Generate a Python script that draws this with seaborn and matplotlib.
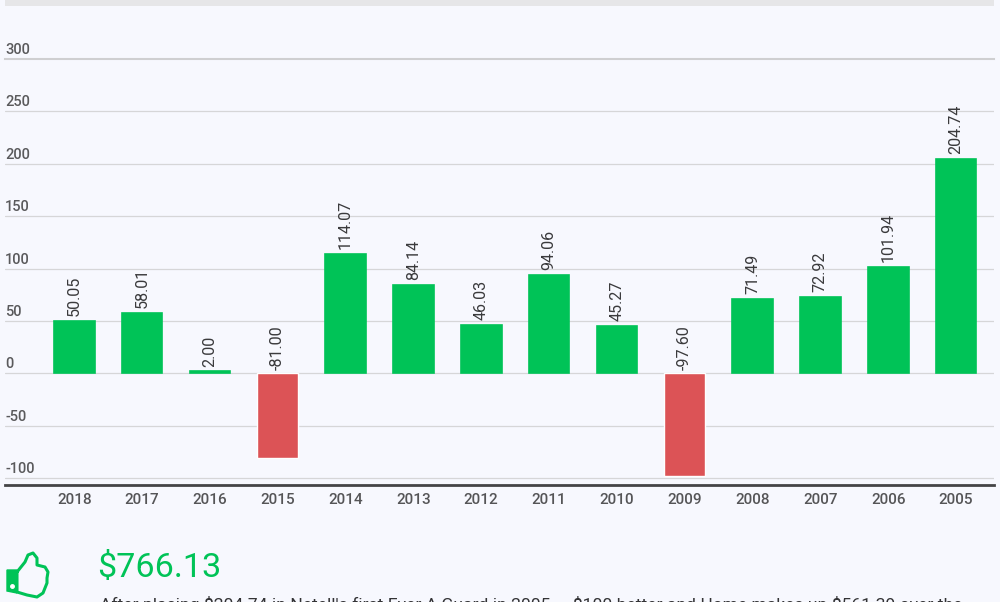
import pandas as pd
import numpy as np
import matplotlib
matplotlib.use("Agg")
import matplotlib.pyplot as plt
import seaborn as sns
from matplotlib.patches import Rectangle, PathPatch, Polygon
from matplotlib.path import Path

# chart values
years = ["2018", "2017", "2016", "2015", "2014", "2013", "2012", "2011", "2010", "2009", "2008", "2007", "2006", "2005"]
values = [50.05, 58.01, 2.00, -81.00, 114.07, 84.14, 46.03, 94.06, 45.27, -97.60, 71.49, 72.92, 101.94, 204.74]
y_ticks = [-100, -50, 0, 50, 100, 150, 200, 250, 300]
total_label = "$766.13"
note_label = "After placing $204.74 in Netell's first Ever A Guard in 2005 \u2014 $100 better and Home makes up $561.39 over the"

BG = "#F7F8FE"
GREEN = "#00C357"
RED = "#DC5356"

sns.set_theme(style="white")
plt.rcParams["font.family"] = ["Roboto", "DejaVu Sans"]

W, H = 1000, 602
fig = plt.figure(figsize=(W / 100, H / 100), dpi=100, facecolor=BG)

# axes box in pixels: left 5, right 994, top 59 (=300), bottom 484.5
ax = fig.add_axes([5 / W, 1 - 484.5 / H, 989 / W, (484.5 - 59) / H], facecolor=BG)

df = pd.DataFrame({"year": years, "value": values})
df["sign"] = np.where(df["value"] < 0, "neg", "pos")
sns.barplot(data=df, x="year", y="value", hue="sign", order=years, palette={"pos": GREEN, "neg": RED},
            dodge=False, legend=False, width=0.6, saturation=1, ax=ax, zorder=3)
# thin edge in the bar colour, keeps the small 2016 bar visible
for bar in ax.patches:
    if bar.get_height() > 0:
        bar.set_edgecolor(bar.get_facecolor())
        bar.set_linewidth(1.2)

ax.set_xlim(-1.02, 13.56)
ax.set_ylim(-105.9, 300)
ax.set_xlabel("")
ax.set_ylabel("")

# grid lines, labels sit on top of them
ax.set_yticks(y_ticks)
ax.set_yticklabels([])
ax.grid(False)
for t in y_ticks:
    if t == 300:
        continue
    ax.axhline(t, color="#D6D6D8", lw=0.9, zorder=1)
for t in y_ticks:
    ax.annotate(str(t), xy=(0, t), xycoords=("axes fraction", "data"), xytext=(0, 1.5), textcoords="offset points",
                ha="left", va="bottom", fontsize=10.5, color="#5A5A5C", fontweight="medium")

for s in ["left", "right"]:
    ax.spines[s].set_visible(False)
ax.spines["top"].set_color("#CFCFD1")
ax.spines["top"].set_linewidth(1.5)
ax.spines["bottom"].set_color("#444446")
ax.spines["bottom"].set_linewidth(2)
ax.tick_params(axis="both", length=0)
ax.tick_params(axis="x", pad=6, labelsize=11, labelcolor="#555557")
for lab in ax.get_xticklabels():
    lab.set_fontweight("medium")

# value labels, negative ones also sit above the zero line
for i, v in enumerate(values):
    ax.annotate(f"{v:.2f}", xy=(i, max(v, 0)), xytext=(0, 3.5 if v > 0 else 2.5), textcoords="offset points", rotation=90,
                ha="center", va="bottom", fontsize=11.6, color="#3A3A3C", zorder=4)

# grey strip at the top of the card
fig.add_artist(Rectangle((5 / W, 1 - 6 / H), 989 / W, 6 / H, transform=fig.transFigure, facecolor="#E6E6E8", edgecolor="none"))

# thumbs up icon, drawn in pixel coordinates
icon = fig.add_axes([0, 0, 1, 1], facecolor="none")
icon.set_xlim(0, W)
icon.set_ylim(H, 0)
icon.axis("off")
thumb = [(17, 572), (25, 562), (28, 555), (33, 553), (37, 558), (37, 565), (45, 567), (48, 572),
         (47, 578), (47, 583), (43, 593), (37, 597), (27, 595), (17, 592), (17, 572)]
icon.add_patch(PathPatch(Path(thumb), facecolor="none", edgecolor=GREEN, lw=2.2, joinstyle="round"))
icon.add_patch(Polygon([(7, 570), (17, 570), (17, 593), (7, 591)], facecolor=GREEN, edgecolor=GREEN, lw=1))
icon.plot([12], [586], marker="o", ms=2.5, color="white", ls="none")

fig.text(97 / W, 1 - 577 / H, total_label, fontsize=24.6, color=GREEN, ha="left", va="baseline")
# only the top of this line shows, the rest runs off the card
fig.text(100 / W, 1 - 610 / H, note_label, fontsize=12.6, color="#333335", ha="left", va="baseline")

fig.savefig("out.png", dpi=100, facecolor=BG)
